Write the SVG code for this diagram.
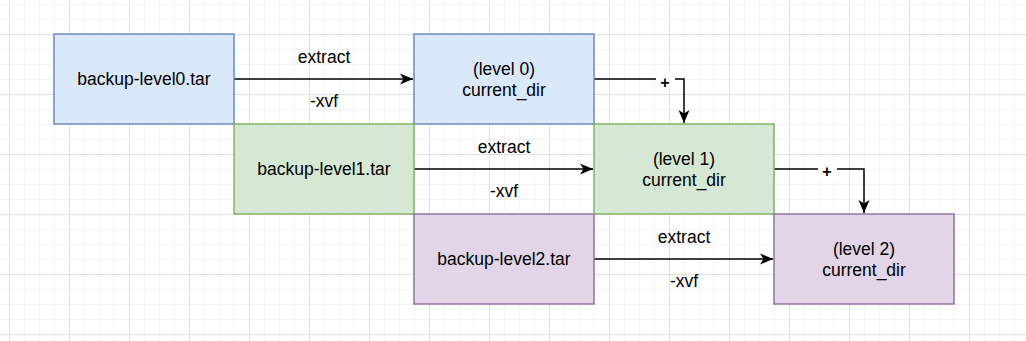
<svg xmlns="http://www.w3.org/2000/svg" width="1026" height="341" viewBox="0 0 1026 341">
  <style>
    .box { stroke-width: 1.5; }
    .blue { fill: #dae8fc; stroke: #6c8ebf; }
    .green { fill: #d5e8d4; stroke: #82b366; }
    .purple { fill: #e1d5e7; stroke: #9673a6; }
    text { font-family: "Liberation Sans", Arial, sans-serif; font-size: 17.5px; fill: #000; text-anchor: middle; }
    .plus { font-size: 16px; font-weight: bold; }
    .edge { fill: none; stroke: #000; stroke-width: 1.5; }
  </style>
  <defs>
    <pattern id="minor" x="9" y="4" width="15" height="15" patternUnits="userSpaceOnUse">
      <rect x="0" y="0" width="1" height="15" fill="#f3f3f3"/>
      <rect x="0" y="0" width="15" height="1" fill="#f3f3f3"/>
    </pattern>
    <pattern id="major" x="9" y="34" width="60" height="60" patternUnits="userSpaceOnUse">
      <rect x="0" y="0" width="1" height="60" fill="#e0e0e0"/>
      <rect x="0" y="0" width="60" height="1" fill="#e0e0e0"/>
    </pattern>
    <marker id="arrow" markerUnits="userSpaceOnUse" markerWidth="16" markerHeight="14" viewBox="-14 -7 16 14" refX="0" refY="0" orient="auto">
      <path d="M0,0 L-13,-5.5 L-9.5,0 L-13,5.5 Z" fill="#000"/>
    </marker>
  </defs>
  <rect width="1026" height="341" fill="#ffffff"/>
  <rect width="1026" height="341" fill="url(#minor)"/>
  <rect width="1026" height="341" fill="url(#major)"/>

  <g id="connectors">
    <path class="edge" d="M234,79 H413" marker-end="url(#arrow)"/>
    <text x="324" y="63">extract</text>
    <text x="324" y="107">-xvf</text>
    <path class="edge" d="M414,169 H593" marker-end="url(#arrow)"/>
    <text x="504" y="153">extract</text>
    <text x="504" y="197">-xvf</text>
    <path class="edge" d="M594,259 H773" marker-end="url(#arrow)"/>
    <text x="684" y="243">extract</text>
    <text x="684" y="287">-xvf</text>
    <path class="edge" d="M594,79 H684 V123" marker-end="url(#arrow)"/>
    <rect x="656" y="72" width="19" height="18" fill="#ffffff"/>
    <text class="plus" x="665" y="88">+</text>
    <path class="edge" d="M774,169 H864 V213" marker-end="url(#arrow)"/>
    <rect x="818" y="162" width="19" height="18" fill="#ffffff"/>
    <text class="plus" x="827" y="177">+</text>
  </g>

  <g id="backup-level0">
    <rect class="box blue" x="54" y="34" width="180" height="90"/>
    <text x="144" y="85">backup-level0.tar</text>
  </g>
  <g id="level0-dir">
    <rect class="box blue" x="414" y="34" width="180" height="90"/>
    <text x="504" y="75">(level 0)</text>
    <text x="504" y="96">current_dir</text>
  </g>
  <g id="backup-level1">
    <rect class="box green" x="234" y="124" width="180" height="90"/>
    <text x="324" y="175">backup-level1.tar</text>
  </g>
  <g id="level1-dir">
    <rect class="box green" x="594" y="124" width="180" height="90"/>
    <text x="684" y="165">(level 1)</text>
    <text x="684" y="186">current_dir</text>
  </g>
  <g id="backup-level2">
    <rect class="box purple" x="414" y="214" width="180" height="90"/>
    <text x="504" y="265">backup-level2.tar</text>
  </g>
  <g id="level2-dir">
    <rect class="box purple" x="774" y="214" width="180" height="90"/>
    <text x="864" y="255">(level 2)</text>
    <text x="864" y="276">current_dir</text>
  </g>
</svg>
